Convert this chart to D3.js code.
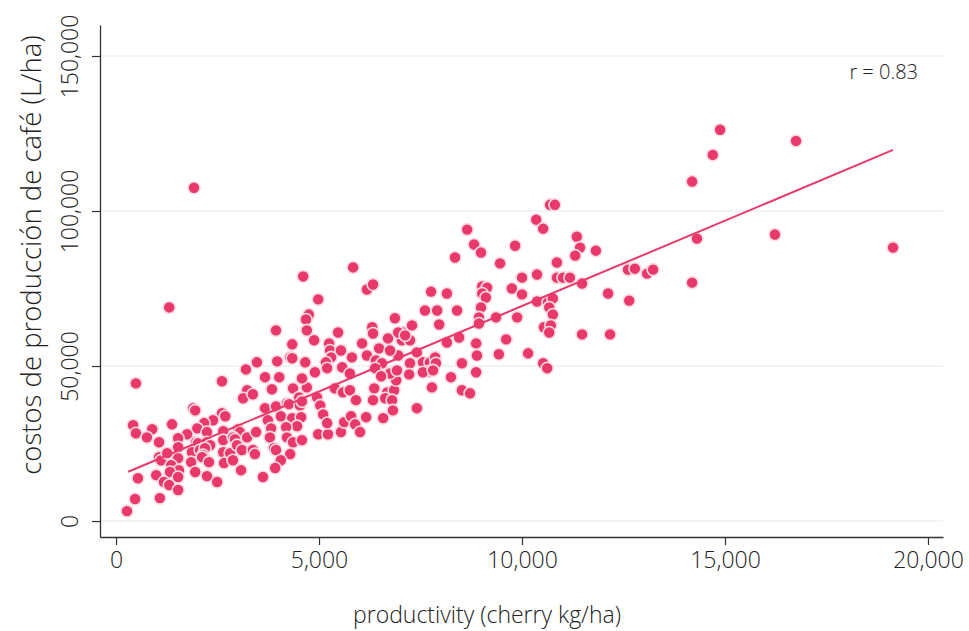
<!DOCTYPE html>
<html>
<head>
<meta charset="utf-8">
<script src="https://cdn.jsdelivr.net/npm/d3@7"></script>
<style>
  html, body { margin: 0; padding: 0; background: #fff; }
  svg { display: block; }
  text { font-family: "Open Sans", "Noto Sans", sans-serif; fill: #222; }
</style>
</head>
<body>
<svg id="chart" width="969" height="631"></svg>
<script>
// productivity (cherry kg/ha)
const productivity = [
  490,2610,3230,3130,1900,1950,2610,2690,2390,2170,420,1380,890,490,2000,1750,2240,2640,3010,3050,
  760,1060,1530,1970,2020,2240,2320,2640,2880,2930,3230,1530,1870,2070,2190,2140,2640,2810,2980,3100,
  1060,1110,1260,1530,1850,2120,2290,2660,2880,1360,1550,1330,1950,2240,3080,990,540,1180,1310,1530,
  1530,2490,1080,470,270,3370,3840,4360,4510,4700,4950,5390,5590,5760,5910,6360,6680,6850,6330,6630,
  6800,6580,6820,6160,3670,3940,4210,4260,4530,4580,5030,5100,3740,4060,4340,4560,4460,4190,3820,3790,
  4210,4360,4580,4980,5220,5200,5540,5620,5790,5890,6010,3450,3370,3420,3890,3940,4290,4060,3920,3620,
  7070,7040,7240,8150,8450,8870,8890,8870,9610,9430,10150,10520,10620,6950,7410,7240,7560,7730,7860,7880,
  7710,7560,7810,7220,6900,8520,8250,6750,8520,8720,7780,7410,1310,3200,3470,5840,4610,6180,6330,4980,
  4750,4680,3940,4700,5470,6870,6310,6330,4880,4340,5250,5270,5300,6060,6700,6950,5540,5810,6180,6480,
  6750,3970,4290,4340,4660,5170,5200,4900,5570,5760,6400,6550,6380,6530,6920,3670,4020,4580,10690,10810,
  10350,10520,8650,8820,8990,8350,9830,9460,10860,10860,10000,10370,7760,8150,9020,9140,9020,9110,9750,10000,
  7610,7910,8400,8990,10370,10640,10760,10670,10760,7290,7960,8940,8940,9360,9880,10540,10710,10670,7120,14880,
  14700,14190,11350,14310,16750,16230,11430,11310,11820,11010,11180,12610,12780,13080,13230,11480,12120,12640,14190,11480,
  12170,19140,1920
];
// costos de producción de café (L/ha)
const costos = [
  44400,45100,42200,39600,36400,35700,34800,33800,32500,31600,30900,31200,29600,28300,29900,28000,28700,29000,29600,28700,
  27000,25400,26700,25400,25100,25400,24500,26100,27000,26400,27000,23800,22200,22900,23500,21300,22200,21900,24500,22900,
  20600,19600,21900,20300,19000,20600,19000,18700,19600,18000,16400,15800,15800,14500,16400,14800,13800,12600,11600,14200,
  10000,12600,7400,7100,3200,40900,42500,42800,39900,43100,39900,42800,41500,42200,39000,42800,41500,42200,39000,39600,
  39000,33200,35700,33500,36400,37000,38000,37700,37300,38600,37300,34400,32500,33800,33200,33500,30600,30300,29900,27000,
  27000,25400,26100,28000,28000,31600,28700,31900,33800,31200,28700,28700,22900,21600,23500,22900,21600,19600,17100,14200,
  60800,58300,58300,57600,59200,57300,53400,48000,58600,53800,54100,50900,49300,53400,54400,50900,51200,51200,52800,50900,
  48300,48000,48600,47300,45400,50900,46400,47600,42200,41200,43100,36400,68900,48900,51200,81800,78900,74700,76300,71500,
  66600,65000,61500,61500,60800,65400,62500,60500,58300,57000,57300,55000,52800,57300,58900,60800,55000,52800,53400,55700,
  55000,51500,52800,52500,51200,51200,49300,48000,49600,47600,51800,50900,49300,46700,48600,46400,46400,46000,102000,102000,
  97200,94300,94000,89200,86600,85000,88800,83100,83400,78500,78500,79500,74000,73400,75700,75300,73400,72100,75000,73100,
  67900,67900,67900,68900,70800,70500,71800,68900,66600,63100,63400,65700,63700,65700,65700,62500,63100,60800,59900,126200,
  118100,109500,91700,91100,122600,92400,88200,85600,87200,78500,78500,81100,81400,79800,81100,76600,73400,71100,76900,60200,
  60200,88200,107500
];
// fitted line (r = 0.83)
const trendX = [300, 19140];
const trendY = [15900, 119700];
const xTicks = [0, 5000, 10000, 15000, 20000];
const yTicks = [0, 50000, 100000, 150000];
const rLabel = "r = 0.83";

const svg = d3.select("#chart");
const x = d3.scaleLinear().domain([-395, 20370]).range([100, 943]);
const y = d3.scaleLinear().domain([-5150, 160000]).range([537, 25]);
const fmt = d3.format(",");
const pink = "#e8396a";

// grid
svg.append("g").selectAll("line").data(yTicks).join("line")
  .attr("x1", x(-395)).attr("x2", x(20370))
  .attr("y1", d => y(d)).attr("y2", d => y(d))
  .attr("stroke", "#eaf0f0").attr("stroke-width", 1.5);

// x axis
const gx = svg.append("g").attr("transform", `translate(0,${y(-5150)})`)
  .call(d3.axisBottom(x).tickValues(xTicks).tickFormat(fmt).tickSizeInner(8).tickSizeOuter(0).tickPadding(7));
gx.select(".domain").attr("stroke", "#333").attr("stroke-width", 1.3);
gx.selectAll(".tick line").attr("stroke", "#333").attr("stroke-width", 1.2);
gx.selectAll(".tick text").attr("font-size", 23).attr("font-weight", 300)
  .attr("font-family", "'Open Sans', sans-serif").attr("fill", "#222");

// y axis
const gy = svg.append("g").attr("transform", `translate(${x(-395)},0)`)
  .call(d3.axisLeft(y).tickValues(yTicks).tickFormat(fmt).tickSizeInner(8).tickSizeOuter(0));
gy.select(".domain").attr("stroke", "#333").attr("stroke-width", 1.3);
gy.selectAll(".tick line").attr("stroke", "#333").attr("stroke-width", 1.2);
gy.selectAll(".tick text")
  .attr("font-size", 23).attr("font-weight", 300).attr("fill", "#222")
  .attr("font-family", "'Open Sans', sans-serif")
  .attr("text-anchor", "middle").attr("x", 0).attr("y", 0).attr("dy", 0)
  .attr("transform", "translate(-22,0) rotate(-90)");

// points
svg.append("g").selectAll("circle").data(productivity.map((p, i) => [p, costos[i]])).join("circle")
  .attr("cx", d => x(d[0])).attr("cy", d => y(d[1])).attr("r", 6)
  .attr("fill", pink).attr("stroke", "#fbdbe4").attr("stroke-width", 1.6);

// trend line
svg.append("line")
  .attr("x1", x(trendX[0])).attr("y1", y(trendY[0]))
  .attr("x2", x(trendX[1])).attr("y2", y(trendY[1]))
  .attr("stroke", pink).attr("stroke-width", 2);

// r label
svg.append("text").attr("x", 918).attr("y", 79).attr("text-anchor", "end")
  .attr("font-size", 20).attr("font-weight", 300).text(rLabel);

// axis titles
svg.append("text").attr("x", 487).attr("y", 623).attr("text-anchor", "middle")
  .attr("font-size", 23).attr("font-weight", 300).text("productivity (cherry kg/ha)");
svg.append("text").attr("transform", "translate(41,255) rotate(-90)").attr("text-anchor", "middle")
  .attr("font-weight", 300)
  .attr("font-size", 27.5).attr("fill", "#222").text("costos de producción de café (L/ha)");
</script>
</body>
</html>
